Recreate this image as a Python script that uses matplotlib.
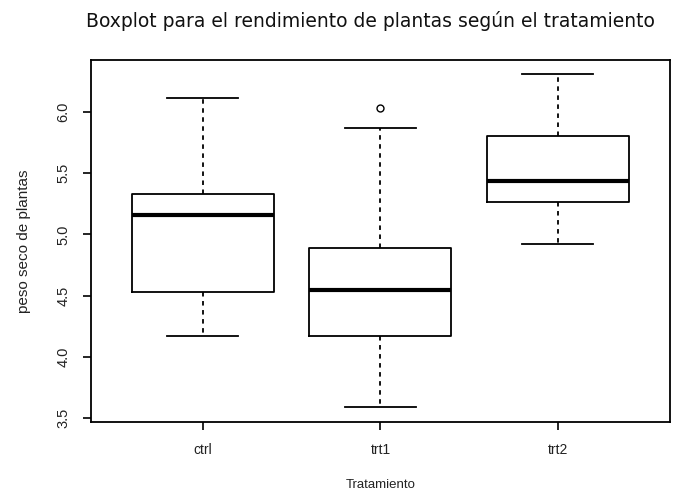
import matplotlib
matplotlib.use("Agg")
import matplotlib.pyplot as plt

# Data (five-number summaries)
categories = ["ctrl", "trt1", "trt2"]
whisker_low = [4.17, 3.59, 4.92]
q1 = [4.53, 4.17, 5.26]
medians = [5.155, 4.55, 5.435]
q3 = [5.33, 4.89, 5.80]
whisker_high = [6.11, 5.87, 6.31]
outliers = [[], [6.03], []]
yticks = [3.5, 4.0, 4.5, 5.0, 5.5, 6.0]

stats = []
for i, c in enumerate(categories):
    stats.append(dict(label=c, whislo=whisker_low[i], q1=q1[i], med=medians[i],
                      q3=q3[i], whishi=whisker_high[i], fliers=outliers[i]))

fig = plt.figure(figsize=(6.87, 4.93), dpi=100)
ax = fig.add_axes([0.1325, 0.144, 0.8425, 0.734])

ax.bxp(stats, positions=[1, 2, 3], widths=0.8, showfliers=True,
       boxprops=dict(color="black", linewidth=1.3),
       medianprops=dict(color="black", linewidth=3.0),
       whiskerprops=dict(color="black", linewidth=1.3, linestyle=(0, (2.5, 2.5))),
       capprops=dict(color="black", linewidth=1.3),
       capwidths=0.4,
       flierprops=dict(marker="o", markerfacecolor="none", markeredgecolor="black",
                       markersize=5, markeredgewidth=1.0))

ax.set_xlim(0.37, 3.63)
ax.set_ylim(3.47, 6.42)
ax.set_yticks(yticks)
ax.set_yticklabels([f"{v:.1f}" for v in yticks], rotation=90, va="center",
                   fontsize=10.5, family="Liberation Sans", color="#222222")
ax.set_xticks([1, 2, 3])
ax.set_xticklabels(categories, fontsize=10, family="Liberation Sans", color="#222222")
ax.tick_params(axis="both", length=6, width=1.2, color="black", pad=9)
for s in ax.spines.values():
    s.set_linewidth(1.3)

ax.set_xlabel("Tratamiento", fontsize=9.5, family="Liberation Sans", labelpad=16, color="#222222")
ax.set_ylabel("peso seco de plantas", fontsize=11, family="Liberation Sans", labelpad=18, color="#222222")
fig.text(0.539, 0.958, "Boxplot para el rendimiento de plantas según el tratamiento",
         ha="center", va="center", fontsize=13.5, fontweight="normal", family="DejaVu Sans",
         color="#111111")

fig.savefig("out.png", dpi=100)
